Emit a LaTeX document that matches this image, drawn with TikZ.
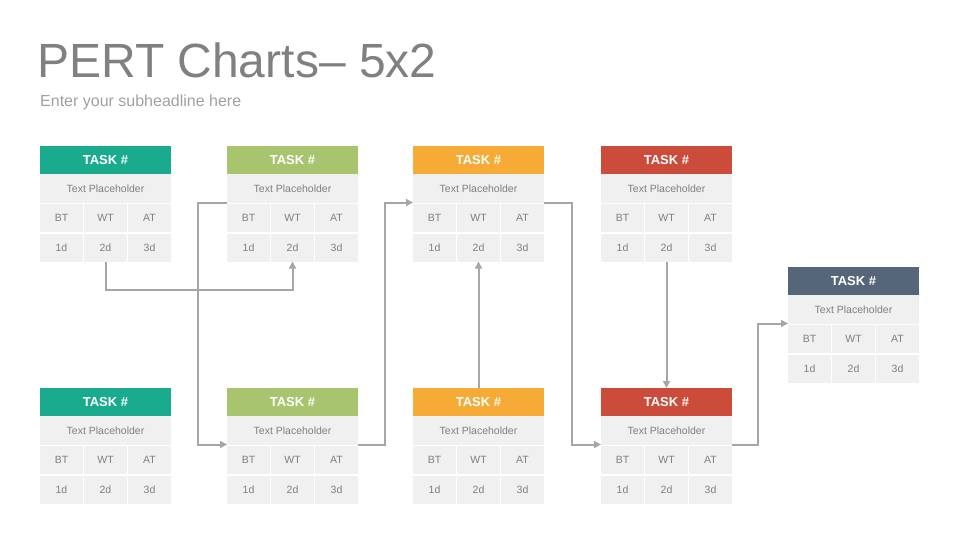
\documentclass[tikz,border=0pt]{standalone}
\usepackage{fontspec}
\setmainfont{Liberation Sans}
\usetikzlibrary{positioning,arrows.meta}

\definecolor{taskteal}{HTML}{1AAB8F}
\definecolor{taskgreen}{HTML}{A9C46E}
\definecolor{taskorange}{HTML}{F5AB35}
\definecolor{taskred}{HTML}{CC4C3C}
\definecolor{taskslate}{HTML}{546678}
\definecolor{cellgray}{HTML}{F0F0F0}
\definecolor{textgray}{HTML}{808080}
\definecolor{linegray}{HTML}{A6A6A6}

\tikzset{
  head/.style={anchor=north west, minimum width=131pt, minimum height=28pt, inner sep=0pt, outer sep=0pt,
    text=white, font=\bfseries\fontsize{13}{13}\selectfont},
  textrow/.style={fill=cellgray, minimum width=131pt, minimum height=28.5pt, inner sep=0pt, outer sep=0pt,
    text=textgray, font=\fontsize{10.5}{10.5}\selectfont},
  cell/.style={fill=cellgray, minimum width=43pt, minimum height=28pt, inner sep=0pt, outer sep=0pt,
    text=textgray, font=\fontsize{10.5}{10.5}\selectfont},
  link/.style={draw=linegray, line width=2pt, -{Triangle[length=7pt,width=7pt]}},
}

\begin{document}
\begin{tikzpicture}[x=1pt,y=-1pt]
    \useasboundingbox (0,0) rectangle (960,540);
    \node[anchor=base west, inner sep=0pt, text=textgray, font=\fontsize{48}{48}\selectfont] (title) at (37,78) {PERT Charts– 5x2};
    \node[anchor=base west, inner sep=0pt, text=textgray!75, font=\fontsize{16}{16}\selectfont] (subtitle) at (40,107) {Enter your subheadline here};
    % task boxes
    \foreach \id/\x/\y/\col in {ta/40/146/taskteal, tb/227/146/taskgreen, tc/413/146/taskorange, td/601/146/taskred,
        ba/40/388/taskteal, bb/227/388/taskgreen, bc/413/388/taskorange, bd/601/388/taskred, te/788/267/taskslate} {
      \node[head, fill=\col] (\id-head) at (\x,\y) {TASK \#};
      \node[textrow, below=0pt of \id-head] (\id-text) {Text Placeholder};
      \node[cell, below right=1.5pt and 0pt of \id-text.south west] (\id-bt) {BT};
      \node[cell, right=1pt of \id-bt] (\id-wt) {WT};
      \node[cell, right=1pt of \id-wt] (\id-at) {AT};
      \node[cell, below=1.5pt of \id-bt] (\id-b) {1d};
      \node[cell, below=1.5pt of \id-wt] (\id-w) {2d};
      \node[cell, below=1.5pt of \id-at] (\id-a) {3d};
    }
    % connectors
    \draw[link] (ta-w.south) -- ++(0,28) -| (tb-w.south);
    \draw[link] (tb-text.south west) -- ++(-29,0) |- (bb-text.south west);
    \draw[link] (bb-text.south east) -- ++(27,0) |- (tc-text.south west);
    \draw[link] (bc-head.north) -- (tc-w.south);
    \draw[link] (tc-text.south east) -- ++(28,0) |- (bd-text.south west);
    \draw[link] (td-w.south) -- (bd-head.north);
    \draw[link] (bd-text.south east) -- ++(26,0) |- (te-text.south west);
\end{tikzpicture}
\end{document}
